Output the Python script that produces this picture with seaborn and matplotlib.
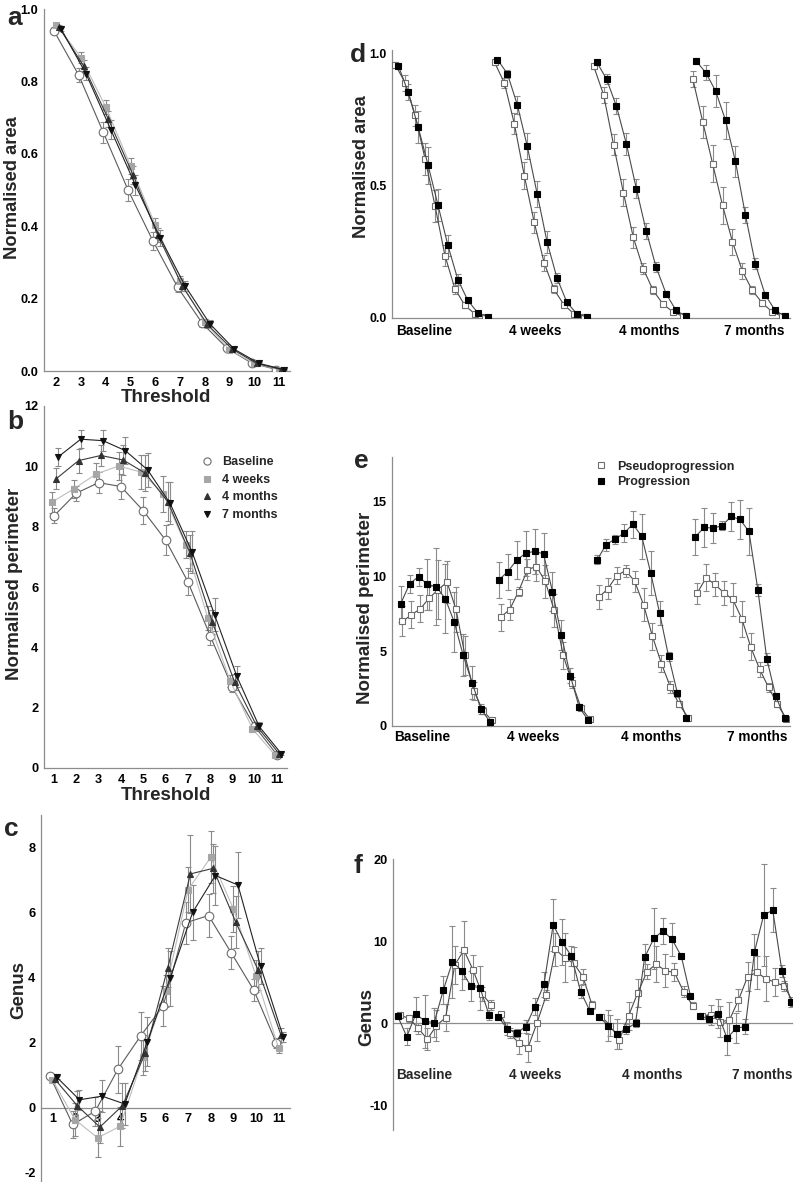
import numpy as np
import pandas as pd
import matplotlib
matplotlib.use("Agg")
import matplotlib.pyplot as plt
import seaborn as sns
from matplotlib.lines import Line2D

# ================================
# Data
# ================================
thresholds_area = [2, 3, 4, 5, 6, 7, 8, 9, 10, 11]
thresholds_full = [1, 2, 3, 4, 5, 6, 7, 8, 9, 10, 11]
timepoints = ["Baseline", "4 weeks", "4 months", "7 months"]

# panel a - normalised area vs threshold
area_baseline = [0.940, 0.818, 0.659, 0.500, 0.360, 0.232, 0.132, 0.063, 0.022, 0.004]
area_4w = [0.957, 0.866, 0.729, 0.567, 0.404, 0.250, 0.135, 0.059, 0.021, 0.004]
area_4m = [0.950, 0.843, 0.696, 0.542, 0.376, 0.234, 0.129, 0.061, 0.021, 0.004]
area_7m = [0.944, 0.821, 0.667, 0.513, 0.368, 0.236, 0.131, 0.060, 0.021, 0.004]
area_baseline_err = [0.010, 0.020, 0.030, 0.030, 0.025, 0.015, 0.010, 0.005, 0.003, 0.002]
area_4w_err = [0.005, 0.015, 0.020, 0.022, 0.020, 0.012, 0.010, 0.005, 0.003, 0.002]
area_4m_err = [0.006, 0.015, 0.022, 0.025, 0.020, 0.012, 0.010, 0.005, 0.003, 0.002]
area_7m_err = [0.006, 0.018, 0.025, 0.028, 0.022, 0.014, 0.010, 0.005, 0.003, 0.002]

# panel b - normalised perimeter vs threshold
perim_baseline = [8.36, 9.11, 9.46, 9.33, 8.53, 7.56, 6.18, 4.39, 2.67, 1.38, 0.44]
perim_4w = [8.81, 9.26, 9.75, 10.01, 9.81, 9.09, 7.40, 4.97, 2.89, 1.30, 0.44]
perim_4m = [9.59, 10.19, 10.36, 10.21, 9.77, 8.83, 7.12, 4.84, 2.85, 1.38, 0.47]
perim_7m = [10.32, 10.90, 10.85, 10.52, 9.88, 8.78, 7.15, 5.08, 3.04, 1.38, 0.47]
perim_baseline_err = [0.25, 0.25, 0.35, 0.40, 0.45, 0.50, 0.45, 0.30, 0.15, 0.10, 0.05]
perim_4w_err = [0.35, 0.30, 0.35, 0.45, 0.55, 0.60, 0.45, 0.40, 0.20, 0.10, 0.05]
perim_4m_err = [0.35, 0.40, 0.35, 0.50, 0.60, 0.65, 0.60, 0.40, 0.25, 0.10, 0.05]
perim_7m_err = [0.30, 0.30, 0.35, 0.45, 0.55, 0.70, 0.70, 0.55, 0.35, 0.15, 0.05]

# panel c - genus vs threshold
genus_baseline = [0.97, -0.51, -0.10, 1.19, 2.21, 3.14, 5.69, 5.91, 4.77, 3.62, 1.99]
genus_4w = [0.87, -0.36, -0.92, -0.56, 1.55, 3.59, 6.71, 7.70, 6.12, 4.05, 1.83]
genus_4m = [0.89, 0.07, -0.59, 0.07, 1.68, 4.30, 7.19, 7.36, 5.71, 4.23, 2.24]
genus_7m = [0.94, 0.25, 0.36, 0.12, 2.04, 3.98, 6.01, 7.14, 6.85, 4.35, 2.19]
genus_baseline_err = [0.05, 0.40, 0.45, 0.72, 0.75, 0.62, 0.65, 0.65, 0.50, 0.35, 0.15]
genus_4w_err = [0.10, 0.50, 0.60, 0.60, 0.55, 0.50, 0.70, 0.80, 0.70, 0.50, 0.15]
genus_4m_err = [0.05, 0.45, 0.50, 0.70, 0.55, 0.60, 1.20, 0.75, 0.80, 0.60, 0.20]
genus_7m_err = [0.05, 0.30, 0.50, 0.65, 0.75, 0.85, 0.85, 0.90, 1.00, 0.55, 0.15]

# panel d - area, pseudoprogression vs progression (4 timepoints x 10 thresholds)
d_pseudo = [0.956, 0.887, 0.765, 0.600, 0.423, 0.236, 0.111, 0.048, 0.016, 0.004,
            0.966, 0.887, 0.733, 0.538, 0.362, 0.209, 0.108, 0.050, 0.016, 0.004,
            0.951, 0.843, 0.655, 0.473, 0.304, 0.186, 0.104, 0.052, 0.023, 0.006,
            0.902, 0.741, 0.582, 0.425, 0.287, 0.177, 0.104, 0.057, 0.023, 0.006]
d_prog = [0.953, 0.852, 0.721, 0.577, 0.426, 0.274, 0.145, 0.067, 0.020, 0.004,
          0.976, 0.922, 0.805, 0.649, 0.469, 0.287, 0.151, 0.059, 0.016, 0.004,
          0.967, 0.902, 0.799, 0.657, 0.489, 0.328, 0.192, 0.092, 0.029, 0.006,
          0.972, 0.927, 0.857, 0.746, 0.591, 0.390, 0.205, 0.087, 0.029, 0.006]
d_pseudo_err = [0.010, 0.030, 0.040, 0.060, 0.060, 0.040, 0.020, 0.010, 0.005, 0.002,
                0.010, 0.020, 0.040, 0.050, 0.040, 0.030, 0.015, 0.010, 0.005, 0.002,
                0.010, 0.030, 0.040, 0.050, 0.040, 0.020, 0.015, 0.008, 0.004, 0.002,
                0.030, 0.060, 0.070, 0.070, 0.050, 0.030, 0.015, 0.010, 0.005, 0.002]
d_prog_err = [0.010, 0.030, 0.060, 0.070, 0.060, 0.040, 0.020, 0.010, 0.005, 0.002,
              0.005, 0.015, 0.035, 0.050, 0.050, 0.040, 0.020, 0.010, 0.005, 0.002,
              0.008, 0.020, 0.030, 0.040, 0.035, 0.030, 0.020, 0.010, 0.005, 0.002,
              0.010, 0.030, 0.060, 0.070, 0.060, 0.030, 0.020, 0.010, 0.005, 0.002]

# panel e - perimeter, pseudoprogression vs progression (4 timepoints x 11 thresholds)
e_pseudo = [7.00, 7.44, 7.84, 8.56, 9.13, 9.62, 7.80, 4.73, 2.36, 1.02, 0.40,
            7.29, 7.78, 9.00, 10.47, 10.67, 9.67, 7.73, 4.73, 2.91, 1.22, 0.44,
            8.62, 9.18, 10.07, 10.40, 9.69, 8.11, 6.00, 4.18, 2.62, 1.44, 0.56,
            8.89, 9.91, 9.47, 8.91, 8.47, 7.18, 5.29, 3.80, 2.58, 1.44, 0.49]
e_prog = [8.18, 9.51, 10.00, 9.47, 9.33, 8.51, 6.96, 4.73, 2.89, 1.13, 0.29,
          9.78, 10.33, 11.11, 11.56, 11.69, 11.51, 9.00, 6.07, 3.36, 1.24, 0.40,
          11.11, 12.13, 12.51, 12.89, 13.51, 12.69, 10.24, 7.56, 4.67, 2.18, 0.56,
          12.67, 13.29, 13.24, 13.40, 14.02, 13.82, 13.02, 9.13, 4.51, 2.00, 0.56]
e_pseudo_err = [1.0, 0.9, 0.9, 0.8, 2.0, 1.4, 1.5, 1.3, 0.6, 0.25, 0.1,
                0.9, 0.7, 0.3, 0.7, 1.0, 1.1, 1.1, 0.9, 0.4, 0.15, 0.1,
                0.8, 0.7, 0.6, 0.4, 0.7, 1.1, 0.9, 0.6, 0.4, 0.2, 0.1,
                0.7, 0.9, 0.8, 0.8, 1.1, 1.2, 0.9, 0.5, 0.3, 0.2, 0.1]
e_prog_err = [1.2, 0.6, 0.6, 1.7, 2.6, 2.3, 2.0, 1.4, 1.1, 0.35, 0.1,
              1.2, 1.2, 1.3, 1.5, 1.5, 1.4, 1.3, 1.0, 0.5, 0.2, 0.1,
              0.3, 0.4, 0.3, 0.6, 0.9, 1.5, 1.5, 0.8, 0.3, 0.25, 0.1,
              1.2, 1.3, 1.0, 0.3, 1.0, 1.3, 1.6, 0.4, 0.4, 0.2, 0.1]

# panel f - genus, pseudoprogression vs progression (4 timepoints x 11 thresholds)
f_pseudo = [0.97, 0.61, -0.61, -1.94, -0.28, 0.69, 7.09, 8.91, 6.48, 3.56, 2.19,
            1.09, -1.21, -2.43, -2.96, 0.08, 3.44, 8.99, 7.98, 7.29, 5.67, 2.23,
            0.81, -0.28, -2.02, 0.93, 3.72, 6.28, 7.21, 6.40, 6.19, 3.85, 2.15,
            0.89, 0.97, 0.20, 0.36, 2.83, 5.67, 6.19, 5.43, 4.98, 4.53, 2.51]
f_prog = [0.89, -1.62, 1.13, 0.24, 0.08, 4.05, 7.49, 6.40, 4.53, 4.33, 1.01,
          0.81, -0.69, -1.21, -0.40, 2.02, 4.74, 11.98, 9.84, 8.18, 3.85, 1.54,
          0.81, -0.28, -1.30, -0.69, 0.00, 8.02, 10.32, 11.26, 10.20, 8.18, 3.36,
          0.89, 0.57, 1.17, -1.82, -0.61, -0.40, 8.70, 13.16, 13.77, 6.36, 2.63]
f_pseudo_err = [0.2, 0.4, 0.7, 1.3, 1.9, 1.6, 2.3, 3.5, 1.8, 0.8, 0.6,
                0.3, 0.6, 1.3, 1.7, 2.2, 0.6, 2.0, 3.0, 2.0, 0.9, 0.5,
                0.2, 1.3, 1.1, 1.7, 1.7, 0.9, 2.2, 2.0, 1.1, 0.7, 0.4,
                0.2, 1.2, 1.9, 2.2, 1.3, 1.8, 2.0, 2.7, 1.7, 0.6, 0.4]
f_prog_err = [0.2, 1.0, 2.1, 3.2, 1.8, 1.7, 4.4, 2.3, 1.8, 2.7, 0.6,
              0.2, 0.8, 0.5, 0.8, 1.0, 1.5, 3.2, 2.8, 1.2, 0.8, 0.3,
              0.2, 1.9, 1.8, 0.6, 0.5, 1.6, 3.7, 1.6, 2.0, 0.0, 0.0,
              0.2, 0.6, 1.8, 2.0, 1.8, 0.9, 2.2, 6.2, 2.7, 0.7, 0.6]

# ================================
# Style
# ================================
sns.set_style("white")
plt.rcParams["font.family"] = ["Liberation Sans", "DejaVu Sans"]
plt.rcParams["font.weight"] = "bold"
plt.rcParams["axes.unicode_minus"] = False

W, H = 800, 1182
fig = plt.figure(figsize=(W / 100, H / 100), dpi=100)


def add_axes(x0, x1, y0, y1):
    # pixel box (top-left origin) -> figure fraction
    return fig.add_axes([x0 / W, 1 - y1 / H, (x1 - x0) / W, (y1 - y0) / H])


SPINE = "#8c8c8c"
ERR = "#8a8a8a"


def style_axes(ax):
    sns.despine(ax=ax)
    for s in ["left", "bottom"]:
        ax.spines[s].set_color(SPINE)
        ax.spines[s].set_linewidth(0.9)
    ax.tick_params(axis="both", length=2, width=0.7, color=SPINE, pad=2,
                   labelsize=9.2, labelcolor="black")
    for lab in ax.get_xticklabels() + ax.get_yticklabels():
        lab.set_fontweight("bold")
    ax.set_xlabel("")
    ax.set_ylabel("")


# series styles for the timepoint panels
time_styles = [
    dict(marker="o", mfc="white", mec="#6e6e6e", line="#5a5a5a", ms=6.2),
    dict(marker="s", mfc="#a6a6a6", mec="#a6a6a6", line="#bdbdbd", ms=5.0),
    dict(marker="^", mfc="#333333", mec="#333333", line="#3a3a3a", ms=5.0),
    dict(marker="v", mfc="#111111", mec="#111111", line="#222222", ms=5.0),
]


def draw_time_panel(ax, xs, series, errs, offsets):
    for vals, err, st, off in zip(series, errs, time_styles, offsets):
        x = np.array(xs) + off
        ax.errorbar(x, vals, yerr=err, fmt="none", ecolor=ERR, elinewidth=0.8,
                    capsize=2.2, capthick=0.8, zorder=2)
        sns.lineplot(x=x, y=vals, ax=ax, color=st["line"], linewidth=0.8,
                     marker=st["marker"], markersize=st["ms"],
                     markerfacecolor=st["mfc"], markeredgecolor=st["mec"],
                     markeredgewidth=0.8, zorder=3, legend=False)


def draw_group_panel(ax, n, pseudo, prog, pseudo_err, prog_err, pseudo_off, ms):
    df = pd.DataFrame({
        "x": np.arange(len(prog)),
        "group": np.repeat(np.arange(4), n),
        "pseudo": pseudo, "prog": prog,
        "pseudo_err": pseudo_err, "prog_err": prog_err,
    })
    df["xp"] = df["x"] + pseudo_off
    ax.errorbar(df["xp"], df["pseudo"], yerr=df["pseudo_err"], fmt="none", ecolor=ERR,
                elinewidth=0.8, capsize=2, capthick=0.8, zorder=2)
    ax.errorbar(df["x"], df["prog"], yerr=df["prog_err"], fmt="none", ecolor=ERR,
                elinewidth=0.8, capsize=2, capthick=0.8, zorder=2)
    sns.lineplot(data=df, x="xp", y="pseudo", units="group", estimator=None, ax=ax,
                 color="#4a4a4a", linewidth=0.8, marker="s", markersize=ms,
                 markerfacecolor="white", markeredgecolor="#6e6e6e",
                 markeredgewidth=0.8, zorder=3, legend=False)
    sns.lineplot(data=df, x="x", y="prog", units="group", estimator=None, ax=ax,
                 color="#4a4a4a", linewidth=0.8, marker="s", markersize=ms,
                 markerfacecolor="black", markeredgecolor="black",
                 markeredgewidth=0.8, zorder=4, legend=False)


# ================================
# Panel a
# ================================
ax_a = add_axes(44, 290, 9, 371)
draw_time_panel(ax_a, thresholds_area,
                [area_baseline, area_4w, area_4m, area_7m],
                [area_baseline_err, area_4w_err, area_4m_err, area_7m_err],
                [-0.1, 0.0, 0.1, 0.2])
ax_a.set_xlim(1.5, 11.45)
ax_a.set_ylim(0, 1.0)
ax_a.set_xticks(thresholds_area)
ax_a.set_yticks([0.0, 0.2, 0.4, 0.6, 0.8, 1.0])
ax_a.set_yticklabels(["0.0", "0.2", "0.4", "0.6", "0.8", "1.0"])
style_axes(ax_a)

# ================================
# Panel b
# ================================
ax_b = add_axes(44, 287, 406, 768)
draw_time_panel(ax_b, thresholds_full,
                [perim_baseline, perim_4w, perim_4m, perim_7m],
                [perim_baseline_err, perim_4w_err, perim_4m_err, perim_7m_err],
                [0.0, -0.1, 0.1, 0.2])
ax_b.set_xlim(0.55, 11.45)
ax_b.set_ylim(0, 12)
ax_b.set_xticks(thresholds_full)
ax_b.set_yticks([0, 2, 4, 6, 8, 10, 12])
style_axes(ax_b)
handles_b = [Line2D([], [], linestyle="none", marker=st["marker"], markersize=st["ms"] - 1,
                    markerfacecolor=st["mfc"], markeredgecolor=st["mec"], markeredgewidth=0.8)
             for st in time_styles]
leg_b = ax_b.legend(handles_b, timepoints, loc="upper left", bbox_to_anchor=(0.63, 0.875),
                    frameon=False, fontsize=9, handlelength=0.8, handletextpad=0.8,
                    labelspacing=0.45, borderaxespad=0)
for t in leg_b.get_texts():
    t.set_fontweight("bold")

# ================================
# Panel c
# ================================
ax_c = add_axes(41, 290, 815, 1186)
draw_time_panel(ax_c, thresholds_full,
                [genus_baseline, genus_4w, genus_4m, genus_7m],
                [genus_baseline_err, genus_4w_err, genus_4m_err, genus_7m_err],
                [-0.1, 0.0, 0.1, 0.2])
ax_c.set_xlim(0.5, 11.5)
ax_c.set_ylim(-2.4, 9.0)
ax_c.set_xticks(thresholds_full)
ax_c.set_yticks([-2, 0, 2, 4, 6, 8])
style_axes(ax_c)
ax_c.spines["bottom"].set_position(("data", 0))
ax_c.tick_params(axis="x", length=0, pad=4)

# ================================
# Panel d
# ================================
ax_d = add_axes(392, 790, 50, 318)
draw_group_panel(ax_d, 10, d_pseudo, d_prog, d_pseudo_err, d_prog_err, -0.3, 4.2)
ax_d.set_xlim(-0.64, 39.5)
ax_d.set_ylim(0, 1.012)
ax_d.set_yticks([0.0, 0.5, 1.0])
ax_d.set_yticklabels(["0.0", "0.5", "1.0"])
ax_d.set_xticks([2.6, 13.8, 25.3, 35.9])
ax_d.set_xticklabels(timepoints)
style_axes(ax_d)
ax_d.tick_params(axis="x", length=0, labelsize=9.8, pad=4)
ax_d.tick_params(axis="y", labelsize=8.8)

# ================================
# Panel e
# ================================
ax_e = add_axes(392, 790, 457, 726)
draw_group_panel(ax_e, 11, e_pseudo, e_prog, e_pseudo_err, e_prog_err, 0.2, 4.2)
ax_e.set_xlim(-0.97, 43.6)
ax_e.set_ylim(0, 18)
ax_e.set_yticks([0, 5, 10, 15])
ax_e.set_xticks([2.4, 14.8, 28.0, 39.9])
ax_e.set_xticklabels(timepoints)
style_axes(ax_e)
ax_e.tick_params(axis="x", length=0, labelsize=9.8, pad=3)
handles_e = [
    Line2D([], [], linestyle="none", marker="s", markersize=4.5, markerfacecolor="white",
           markeredgecolor="#6e6e6e", markeredgewidth=0.8),
    Line2D([], [], linestyle="none", marker="s", markersize=4.5, markerfacecolor="black",
           markeredgecolor="black", markeredgewidth=0.8),
]
leg_e = ax_e.legend(handles_e, ["Pseudoprogression", "Progression"], loc="upper left",
                    bbox_to_anchor=(0.5, 1.005), frameon=False, fontsize=9,
                    handlelength=0.8, handletextpad=0.9, labelspacing=0.3, borderaxespad=0)
for t in leg_e.get_texts():
    t.set_fontweight("bold")

# ================================
# Panel f
# ================================
ax_f = add_axes(393, 792, 859, 1130)
draw_group_panel(ax_f, 11, f_pseudo, f_prog, f_pseudo_err, f_prog_err, 0.25, 4.2)
ax_f.set_xlim(-0.5, 43.1)
ax_f.set_ylim(-13, 20)
ax_f.set_yticks([-10, 0, 10, 20])
ax_f.set_xticks([])
style_axes(ax_f)
ax_f.spines["bottom"].set_position(("data", 0))
for xpos, name in zip([2.9, 15.0, 27.8, 39.8], timepoints):
    ax_f.text(xpos, -6.3, name, ha="center", va="center", fontsize=9.8, fontweight="bold")

# ================================
# Labels
# ================================
def ftext(x, y, s, **kw):
    fig.text(x / W, 1 - y / H, s, fontweight="bold", **kw)

ftext(13, 188, "Normalised area", rotation=90, ha="center", va="center", fontsize=13.2)
ftext(166, 397, "Threshold", ha="center", va="center", fontsize=13.5)
ftext(15, 584, "Normalised perimeter", rotation=90, ha="center", va="center", fontsize=13.5)
ftext(166, 796, "Threshold", ha="center", va="center", fontsize=13.5)
ftext(19, 990, "Genus", rotation=90, ha="center", va="center", fontsize=13.5)
ftext(361, 167, "Normalised area", rotation=90, ha="center", va="center", fontsize=13.2)
ftext(365, 608, "Normalised perimeter", rotation=90, ha="center", va="center", fontsize=13.5)
ftext(367, 1017, "Genus", rotation=90, ha="center", va="center", fontsize=13.5)

ftext(15, 18, "a", ha="center", va="center", fontsize=19)
ftext(15, 422, "b", ha="center", va="center", fontsize=19)
ftext(11, 829, "c", ha="center", va="center", fontsize=19)
ftext(358, 55, "d", ha="center", va="center", fontsize=19)
ftext(361, 461, "e", ha="center", va="center", fontsize=19)
ftext(358, 866, "f", ha="center", va="center", fontsize=19)

fig.savefig("out.png", dpi=100, facecolor="white")
